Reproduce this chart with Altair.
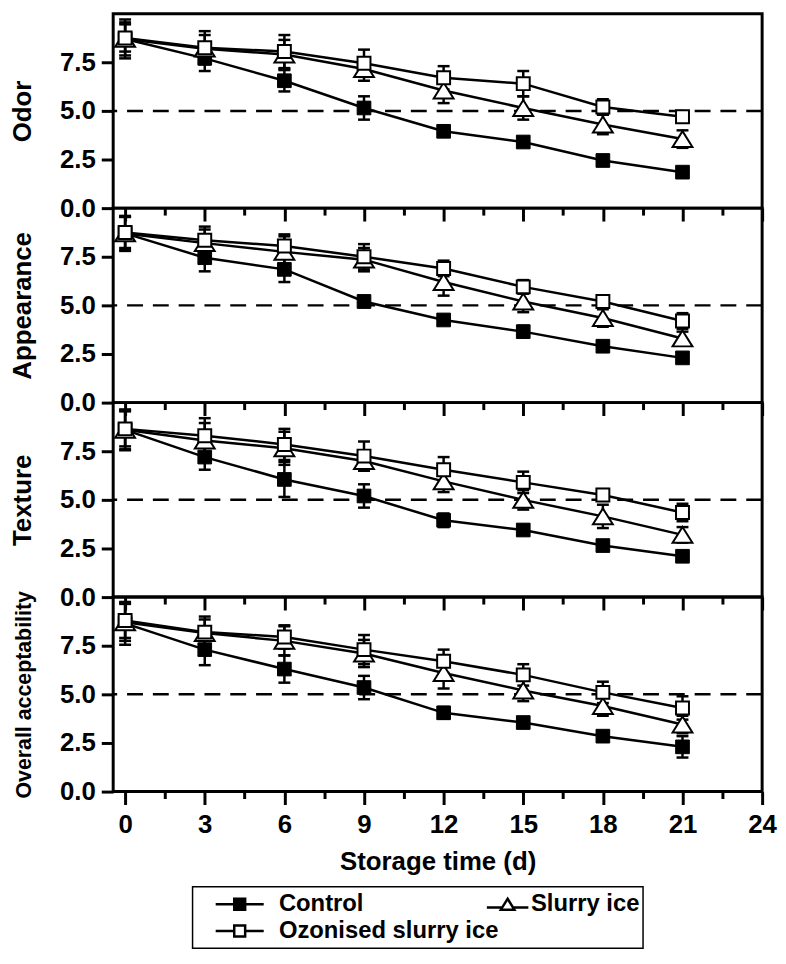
import altair as alt
import pandas as pd

FONT = "Liberation Sans"

days = [0, 3, 6, 9, 12, 15, 18, 21]
series_names = ["Control", "Slurry ice", "Ozonised slurry ice"]
attributes = ["Odor", "Appearance", "Texture", "Overall acceptability"]
threshold = [5.0]
x_tick_values = [0, 1.5, 3, 4.5, 6, 7.5, 9, 10.5, 12, 13.5, 15, 16.5, 18, 19.5, 21, 22.5, 24]
y_tick_values = [0, 2.5, 5, 7.5]

# Odor
odor_control = [8.7, 7.7, 6.55, 5.15, 3.95, 3.4, 2.45, 1.85]
odor_control_sd = [1.0, 0.65, 0.55, 0.6, 0.2, 0.2, 0.2, 0.2]
odor_slurry = [8.7, 8.2, 7.9, 7.15, 6.05, 5.15, 4.3, 3.55]
odor_slurry_sd = [0.85, 0.7, 0.75, 0.6, 0.65, 0.6, 0.5, 0.45]
odor_ozone = [8.75, 8.25, 8.05, 7.45, 6.7, 6.4, 5.2, 4.7]
odor_ozone_sd = [0.7, 0.85, 0.85, 0.7, 0.6, 0.65, 0.4, 0.25]

# Appearance
app_control = [8.7, 7.45, 6.85, 5.2, 4.25, 3.65, 2.9, 2.3]
app_control_sd = [0.9, 0.7, 0.65, 0.3, 0.2, 0.3, 0.2, 0.2]
app_slurry = [8.7, 8.2, 7.75, 7.35, 6.2, 5.2, 4.35, 3.3]
app_slurry_sd = [0.85, 0.7, 0.8, 0.6, 0.7, 0.55, 0.45, 0.35]
app_ozone = [8.75, 8.35, 8.05, 7.5, 6.9, 5.95, 5.2, 4.2]
app_ozone_sd = [0.8, 0.7, 0.6, 0.65, 0.4, 0.35, 0.2, 0.4]

# Texture
tex_control = [8.6, 7.2, 6.05, 5.2, 3.95, 3.45, 2.65, 2.1]
tex_control_sd = [1.05, 0.65, 0.9, 0.6, 0.35, 0.25, 0.15, 0.25]
tex_slurry = [8.6, 8.05, 7.65, 7.0, 5.95, 5.0, 4.15, 3.2]
tex_slurry_sd = [1.0, 0.9, 0.85, 0.5, 0.55, 0.5, 0.6, 0.4]
tex_ozone = [8.65, 8.3, 7.85, 7.25, 6.55, 5.9, 5.25, 4.35]
tex_ozone_sd = [0.9, 0.9, 0.8, 0.75, 0.65, 0.55, 0.3, 0.45]

# Overall acceptability
ova_control = [8.65, 7.3, 6.3, 5.35, 4.05, 3.55, 2.85, 2.3]
ova_control_sd = [1.1, 0.8, 0.7, 0.6, 0.3, 0.2, 0.25, 0.55]
ova_slurry = [8.7, 8.15, 7.75, 7.1, 6.1, 5.2, 4.4, 3.45]
ova_slurry_sd = [0.95, 0.7, 0.75, 0.7, 0.8, 0.55, 0.5, 0.45]
ova_ozone = [8.8, 8.2, 7.95, 7.3, 6.7, 6.0, 5.1, 4.3]
ova_ozone_sd = [0.9, 0.8, 0.6, 0.75, 0.6, 0.55, 0.55, 0.6]

source = {
    "Odor": [(odor_control, odor_control_sd), (odor_slurry, odor_slurry_sd), (odor_ozone, odor_ozone_sd)],
    "Appearance": [(app_control, app_control_sd), (app_slurry, app_slurry_sd), (app_ozone, app_ozone_sd)],
    "Texture": [(tex_control, tex_control_sd), (tex_slurry, tex_slurry_sd), (tex_ozone, tex_ozone_sd)],
    "Overall acceptability": [(ova_control, ova_control_sd), (ova_slurry, ova_slurry_sd), (ova_ozone, ova_ozone_sd)],
}

rows = []
for attr in attributes:
    for name, (means, sds) in zip(series_names, source[attr]):
        for d, m, s in zip(days, means, sds):
            rows.append({"attr": attr, "series": name, "day": d, "mean": m, "lo": m - s, "hi": m + s})
df = pd.DataFrame(rows)
ref_df = pd.DataFrame({"v": threshold})

TRI = "M0,-0.8L1,0.8L-1,0.8Z"
LEG_SQ = "M-2.2,0H-0.5M0.5,0H2.2M-0.5,-0.5H0.5V0.5H-0.5Z"
LEG_TRI = "M-1.9,0.3H-0.5M0.5,0.3H1.9M0,-0.5L0.62,0.5L-0.62,0.5Z"
BLANK = "\u2800" * 9

PANEL_W = 654
PANEL_H = 196


def x_axis(last):
    common = dict(
        values=x_tick_values,
        tickSize={"condition": {"test": "datum.value % 3 === 0", "value": 13}, "value": 7},
        tickWidth=3,
        tickColor="black",
        domain=False,
        grid=False,
        labelFlush=False,
    )
    if last:
        return alt.Axis(
            labels=True,
            labelExpr="datum.value % 3 === 0 ? '' + datum.value : ''",
            labelPadding=7,
            labelFont=FONT,
            labelFontSize=26,
            labelFontWeight="bold",
            labelColor="black",
            labelOverlap=False,
            title="Storage time (d)",
            titleFont=FONT,
            titleFontSize=26,
            titleFontWeight="bold",
            titleColor="black",
            titlePadding=12,
            **common,
        )
    return alt.Axis(labels=False, title=None, **common)


def y_axis(attr):
    return alt.Axis(
        values=y_tick_values,
        format=".1f",
        tickSize=12,
        tickWidth=3,
        tickColor="black",
        domain=False,
        grid=False,
        labelPadding=6,
        labelFont=FONT,
        labelFontSize=26,
        labelFontWeight="bold",
        labelColor="black",
        labelOverlap=False,
        title=attr,
        titleFont=FONT,
        titleFontSize=21.5 if attr == "Overall acceptability" else 26,
        titleFontWeight="bold",
        titleColor="black",
        titlePadding=24,
    )


def legend_def(x, y, boxed, label_offset):
    opts = dict(
        orient="none",
        legendX=x,
        legendY=y,
        direction="vertical",
        rowPadding=2,
        symbolSize=484,
        symbolStrokeWidth=2.5,
        symbolOffset=30,
        labelOffset=label_offset,
        labelFont=FONT,
        labelFontSize=24,
        labelFontWeight="bold",
        labelColor="black",
        labelLimit=400,
    )
    if boxed:
        opts.update(
            padding=5,
            strokeColor="black",
            title=BLANK,
            titleOrient="right",
            titleAnchor="end",
            titlePadding=0,
            titleFont="DejaVu Sans",
            titleFontSize=20,
            titleOpacity=0,
            titleLimit=400,
        )
    else:
        opts.update(padding=0, title=None)
    return alt.Legend(**opts)


def legend_layer(names, paths, fills, leg):
    return alt.Chart(df).transform_filter("false").mark_point(
        filled=False, strokeWidth=2.5, opacity=1
    ).encode(
        shape=alt.Shape("series:N", scale=alt.Scale(domain=names, range=paths), legend=leg),
        fill=alt.Fill("series:N", scale=alt.Scale(domain=names, range=fills), legend=leg),
        stroke=alt.Stroke("series:N", scale=alt.Scale(domain=names, range=["black"] * len(names)), legend=leg),
    )


def panel(attr, last):
    base = alt.Chart(df).transform_filter(alt.datum.attr == attr)
    xs = alt.Scale(domain=[-0.45, 24], nice=False, zero=False)
    ys = alt.Scale(domain=[0, 10], nice=False, zero=True)
    X = alt.X("day:Q", scale=xs, axis=x_axis(last))
    Y = alt.Y("mean:Q", scale=ys, axis=y_axis(attr))

    ref = alt.Chart(ref_df).mark_rule(
        color="black", strokeWidth=2.5, strokeDash=[16, 10]
    ).encode(y=alt.Y("v:Q", scale=ys, axis=y_axis(attr)))

    err_rule = base.mark_rule(color="black", strokeWidth=2.5).encode(
        x=X, y=alt.Y("lo:Q", scale=ys, axis=y_axis(attr)), y2="hi:Q"
    )
    err_lo = base.mark_tick(orient="horizontal", size=12, thickness=2.5, color="black", opacity=1).encode(
        x=X, y=alt.Y("lo:Q", scale=ys, axis=y_axis(attr))
    )
    err_hi = base.mark_tick(orient="horizontal", size=12, thickness=2.5, color="black", opacity=1).encode(
        x=X, y=alt.Y("hi:Q", scale=ys, axis=y_axis(attr))
    )
    lines = base.mark_line(color="black", strokeWidth=2.5).encode(x=X, y=Y, detail="series:N")

    p_ctrl = base.transform_filter(alt.datum.series == "Control").mark_point(
        shape="square", filled=True, fill="black", stroke="black", strokeWidth=1, size=190, opacity=1
    ).encode(x=X, y=Y)
    p_slurry = base.transform_filter(alt.datum.series == "Slurry ice").mark_point(
        shape=TRI, filled=True, fill="white", stroke="black", strokeWidth=2, size=400, opacity=1
    ).encode(x=X, y=Y)
    p_oz = base.transform_filter(alt.datum.series == "Ozonised slurry ice").mark_point(
        shape="square", filled=True, fill="white", stroke="black", strokeWidth=2, size=170, opacity=1
    ).encode(x=X, y=Y)

    layers = [ref, err_rule, err_lo, err_hi, lines, p_ctrl, p_slurry, p_oz]

    if last:
        leg_a = legend_layer(
            ["Control", "Ozonised slurry ice"], [LEG_SQ, LEG_SQ], ["black", "white"],
            legend_def(80, 292, True, 27),
        )
        leg_b = legend_layer(
            ["Slurry ice"], [LEG_TRI], ["white"],
            legend_def(355, 297, False, 11),
        )
        return alt.layer(*layers, leg_a, leg_b).resolve_scale(
            shape="independent", fill="independent", stroke="independent"
        ).resolve_legend(
            shape="independent", fill="independent", stroke="independent"
        ).properties(width=PANEL_W, height=PANEL_H)

    return alt.layer(*layers).properties(width=PANEL_W, height=PANEL_H)


panels = [panel(a, i == len(attributes) - 1) for i, a in enumerate(attributes)]

chart = alt.vconcat(*panels, spacing=0, bounds="flush").resolve_legend(
    shape="independent", fill="independent", stroke="independent"
).resolve_scale(shape="independent", fill="independent", stroke="independent").properties(
    padding={"left": 0, "top": 0, "right": 0, "bottom": 0}
).configure_view(
    stroke="black", strokeWidth=3
).configure_legend(
    strokeWidth=1.5
)

chart.save("out.html", embed_options={"renderer": "svg", "actions": False})
